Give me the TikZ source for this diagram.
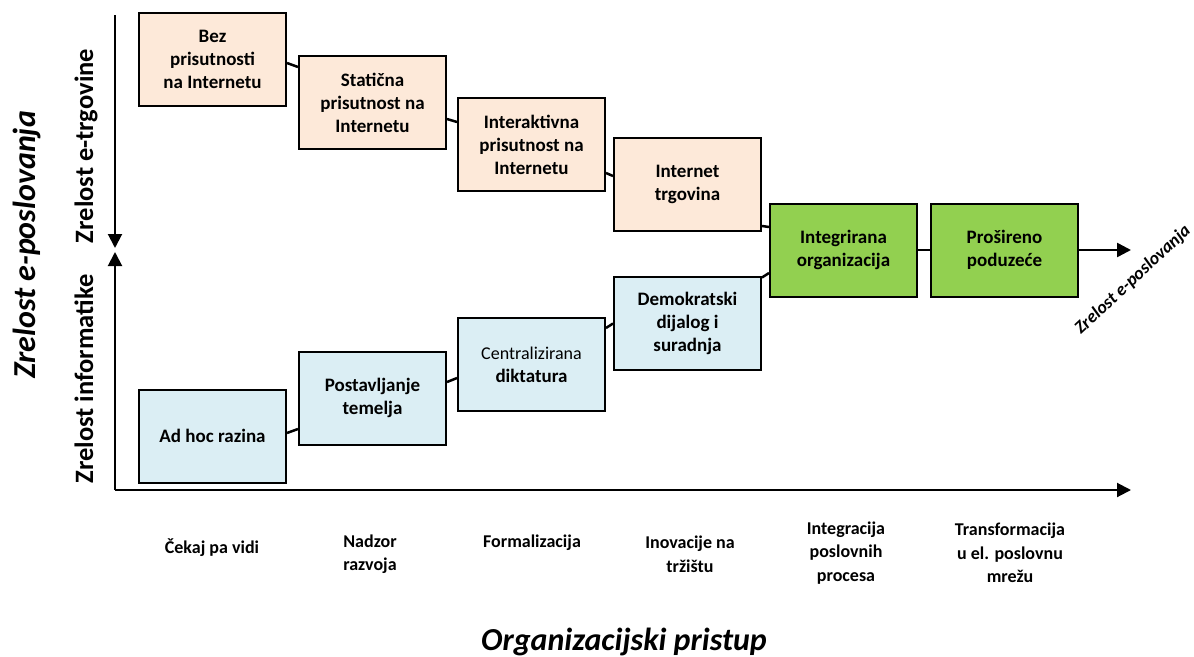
\documentclass[tikz,border=0pt]{standalone}
\usepackage{fontspec}
\setmainfont{Carlito}
\usepackage{tikz}
\usetikzlibrary{arrows.meta, positioning, calc}

\definecolor{webfill}{HTML}{FDE9D9}
\definecolor{itfill}{HTML}{DBEEF4}
\definecolor{ebfill}{HTML}{92D050}

\tikzset{
  stagebox/.style={draw, line width=2pt, inner sep=0pt, minimum width=147pt, minimum height=93pt, align=center, font=\bfseries\fontsize{19}{23}\selectfont},
  webbox/.style={stagebox, fill=webfill},
  itbox/.style={stagebox, fill=itfill},
  ebbox/.style={stagebox, fill=ebfill},
  link/.style={line width=2.5pt},
  axis/.style={line width=2pt, -{Triangle[length=14pt,width=14pt]}},
  phase/.style={align=center, font=\bfseries\fontsize{18}{23.5}\selectfont},
  sidelabel/.style={rotate=90, anchor=base, font=\bfseries\fontsize{26.5}{30}\selectfont}
}

\begin{document}
\begin{tikzpicture}[x=1pt,y=1pt]
\useasboundingbox (0,0) rectangle (1194,-656);

\coordinate (O) at (115,-490);
\coordinate (Ytop) at (115,-15);
\coordinate (Ydown) at (115,-248);
\coordinate (Yup) at (115,-252);
\coordinate (Xend) at (1131,-490);
\draw[axis] (Ytop) -- (Ydown);
\draw[axis] (O) -- (Yup);
\draw[axis] (O) -- (Xend);

\node[webbox] (b1) at (212.5,-59.5) {Bez\\prisutnosti\\na Internetu};
\node[webbox, right=11pt of b1, yshift=-43pt] (b2) {Statična\\prisutnost na\\Internetu};
\node[webbox, right=10pt of b2, yshift=-42pt] (b3) {Interaktivna\\prisutnost na\\Internetu};
\node[webbox, right=7pt of b3, yshift=-39.5pt] (b4) {Internet\\trgovina};
\node[ebbox, right=7pt of b4, yshift=-66pt] (b5) {Integrirana\\organizacija};
\node[ebbox, right=12pt of b5] (b6) {Prošireno\\poduzeće};

\node[itbox, below=44pt of b4] (l4) {Demokratski\\dijalog i\\suradnja};
\node[itbox, left=7pt of l4, yshift=-41.5pt] (l3) {{\mdseries\fontsize{18}{23}\selectfont Centralizirana}\\diktatura};
\node[itbox, left=10pt of l3, yshift=-33.5pt] (l2) {Postavljanje\\temelja};
\node[itbox, left=11pt of l2, yshift=-38pt] (l1) {Ad hoc razina};

\draw[link] ([yshift=-3.5pt]b1.east) -- ([yshift=35.5pt]b2.west);
\draw[link] ([yshift=-16.5pt]b2.east) -- ([yshift=22.5pt]b3.west);
\draw[link] ([yshift=-28.5pt]b3.east) -- ([yshift=8pt]b4.west);
\draw[link] ([yshift=-42pt]b4.east) -- ([yshift=23pt]b5.west);
\draw[link] ([yshift=45.5pt]l4.east) -- ([yshift=-23pt]b5.west);
\draw[link] (b5.east) -- (b6.west);
\draw[link] ([yshift=3pt]l1.east) -- ([yshift=-31pt]l2.west);
\draw[link] ([yshift=16pt]l2.east) -- ([yshift=-13.5pt]l3.west);
\draw[link] ([yshift=36.5pt]l3.east) -- ([yshift=-0.5pt]l4.west);

\coordinate (Eend) at (1131,-250);
\draw[axis, line width=2.5pt] (b6.east) -- (Eend);
\node[rotate=43, font=\bfseries\itshape\fontsize{18}{20}\selectfont] (ebtip) at (1133,-280) {Zrelost e-poslovanja};

\node[sidelabel] (ecom) at (93,-146) {Zrelost e-trgovine};
\node[sidelabel] (info) at (93,-379) {Zrelost informatike};
\node[rotate=90, anchor=base, font=\bfseries\itshape\fontsize{32}{36}\selectfont] (ebus) at (35,-245) {Zrelost e-poslovanja};

\node[phase] (p1) at (212,-548) {Čekaj pa vidi};
\node[phase] (p2) at (370,-554) {Nadzor\\razvoja};
\node[phase] (p3) at (532,-543) {Formalizacija};
\node[phase] (p4) at (690,-554) {Inovacije na\\tržištu};
\node[phase] (p5) at (846,-553) {Integracija\\poslovnih\\procesa};
\node[phase] (p6) at (1010,-553) {Transformacija\\u el. poslovnu\\mrežu};

\node[anchor=base, font=\bfseries\itshape\fontsize{32}{36}\selectfont] (org) at (624,-650) {Organizacijski pristup};
\end{tikzpicture}
\end{document}
